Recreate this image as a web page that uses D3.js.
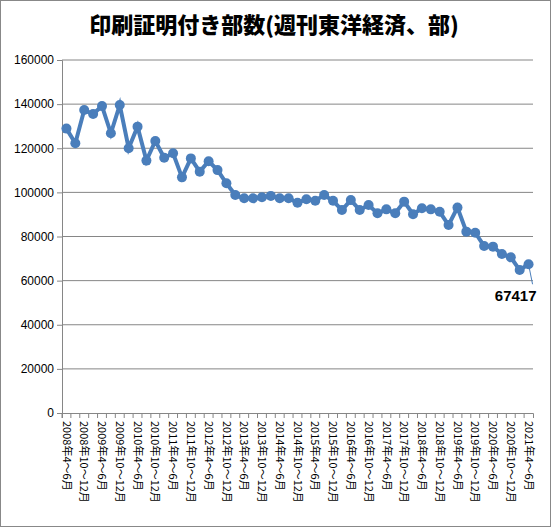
<!DOCTYPE html>
<html><head><meta charset="utf-8">
<script src="https://cdn.jsdelivr.net/npm/d3@7"></script>
<style>body{margin:0;background:#fff}</style>
</head><body><div id="chart"></div>
<script>
var years = d3.range(2008, 2022);
var categories = [];
years.forEach(y => {
    ["4～6月", "7～9月", "10～12月", "1～3月"].forEach(q => categories.push(y + "年" + q));
});
categories = categories.slice(0, 53);
var values = [128900, 122300, 137300, 135500, 139100, 126800, 139600, 120000, 129800, 114400,
              123300, 115700, 117700, 106800, 115400, 109400, 114100, 110100, 104100, 98800,
              97300, 97300, 97800, 98400, 97300, 97300, 95300, 96900, 96200, 98800,
              96200, 92000, 96500, 92000, 94300, 90500, 92300, 90500, 95800, 90100,
              92800, 92300, 91200, 85200, 93100, 82200, 81700, 75700, 75400, 72100,
              70600, 64800, 67417];
var yTicks = [0, 20000, 40000, 60000, 80000, 100000, 120000, 140000, 160000];
var title = "印刷証明付き部数(週刊東洋経済、部)";

var svgWidth = 551, svgHeight = 527;
var margin = {top: 60, right: 18, bottom: 114, left: 62};
var chartWidth = svgWidth - margin.left - margin.right;
var chartHeight = svgHeight - margin.top - margin.bottom;

var svg = d3.select("#chart").append("svg")
            .attr("width", svgWidth).attr("height", svgHeight)
            .style("font-family", "'DejaVu Sans', sans-serif");

svg.append("rect").attr("x", 0.5).attr("y", 0.5)
   .attr("width", svgWidth - 1).attr("height", svgHeight - 1)
   .attr("fill", "#fff").attr("stroke", "#888");

svg.append("text").attr("x", 274).attr("y", 33).attr("text-anchor", "middle")
   .attr("font-size", "22px").attr("font-weight", "900")
   .attr("font-family", "'Noto Sans CJK JP', sans-serif").text(title);

var g = svg.append("g").attr("transform", `translate(${margin.left}, ${margin.top})`);

var x = d3.scaleBand().domain(categories).range([0, chartWidth]);
var y = d3.scaleLinear().domain([0, 160000]).range([chartHeight, 0]);

g.selectAll("line.grid").data(yTicks.slice(1)).enter().append("line")
 .attr("x1", 0).attr("x2", chartWidth)
 .attr("y1", d => y(d)).attr("y2", d => y(d))
 .attr("stroke", "#868686").attr("stroke-width", 1);

var yAxis = g.append("g").call(d3.axisLeft(y).tickValues(yTicks).tickSize(5).tickFormat(d3.format("d")));
yAxis.selectAll("text").attr("font-size", "12px").attr("fill", "#000")
     .attr("font-family", "'Liberation Sans', sans-serif");
yAxis.selectAll("line,path").attr("stroke", "#868686");

var xAxis = g.append("g").attr("transform", `translate(0, ${chartHeight})`)
             .call(d3.axisBottom(x).tickSize(5).tickFormat((d, i) => i % 2 === 0 ? d : ""));
xAxis.selectAll(".tick line").attr("transform", `translate(${-x.bandwidth() / 2},0)`);
xAxis.selectAll("line,path").attr("stroke", "#868686");
xAxis.selectAll("text")
     .attr("font-size", "11px").attr("fill", "#000")
     .attr("font-family", "'Noto Sans CJK JP', sans-serif")
     .attr("transform", "rotate(90)")
     .attr("text-anchor", "start")
     .attr("x", 8).attr("y", 0).attr("dy", "0.35em");

var cx = (d, i) => x(categories[i]) + x.bandwidth() / 2;
var line = d3.line().x(cx).y(d => y(d));
g.append("path").datum(values).attr("d", line)
 .attr("fill", "none").attr("stroke", "#4a7ebb").attr("stroke-width", 4);
g.selectAll("circle").data(values).enter().append("circle")
 .attr("cx", cx).attr("cy", d => y(d)).attr("r", 5).attr("fill", "#4a7ebb");

var last = values.length - 1;
g.append("line").attr("x1", cx(values[last], last)).attr("y1", y(values[last]))
 .attr("x2", cx(values[last], last) + 4).attr("y2", y(values[last]) + 20)
 .attr("stroke", "#4a7ebb").attr("stroke-width", 1);
g.append("text").attr("x", cx(values[last], last) + 8).attr("y", y(values[last]) + 37)
 .attr("text-anchor", "end").attr("font-size", "15px").attr("font-weight", "bold")
 .attr("font-family", "'Liberation Sans', sans-serif")
 .text(values[last]);
</script></body></html>
